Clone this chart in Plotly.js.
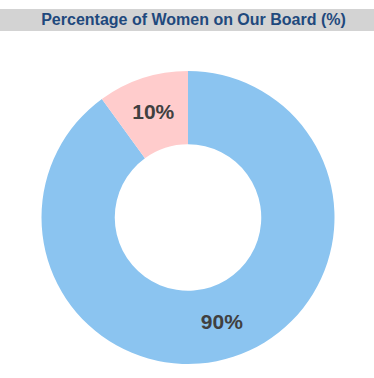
<!DOCTYPE html>
<html>
<head>
<meta charset="utf-8">
<script src="https://cdn.plot.ly/plotly-3.0.1.min.js"></script>
<style>html,body{margin:0;padding:0;background:#fff;}#chart{width:374px;height:378px;}</style>
</head>
<body>
<div id="chart"></div>
<script>
const labels = ["Men", "Women"];
const values = [90, 10];
const colors = ["#8BC4F0", "#FFCCCC"];
const chartTitle = "Percentage of Women on Our Board (%)";

const W = 374, H = 378;
const trace = {
  type: "pie",
  labels: labels,
  values: values,
  hole: 0.5,
  sort: false,
  direction: "clockwise",
  rotation: 0,
  textinfo: "percent",
  textposition: "inside",
  insidetextorientation: "horizontal",
  textfont: {family: "Arial, 'Liberation Sans', sans-serif", size: 21, color: "#404040", weight: "bold"},
  marker: {colors: colors, line: {width: 0}},
  hoverinfo: "none",
  domain: {x: [41.5 / W, 334.5 / W], y: [1 - 364 / H, 1 - 71 / H]}
};

const layout = {
  width: W, height: H,
  margin: {l: 0, r: 0, t: 0, b: 0},
  showlegend: false,
  paper_bgcolor: "#ffffff",
  title: {
    text: "<b>" + chartTitle + "</b>",
    font: {family: "Arial, 'Liberation Sans', sans-serif", size: 16, color: "#1F497D"},
    xref: "paper", x: 193.5 / W, xanchor: "center",
    yref: "container", y: 1 - 19 / H, yanchor: "middle"
  },
  shapes: [{
    type: "rect", xref: "paper", yref: "paper",
    x0: 0, x1: 1, y0: 1 - 31 / H, y1: 1 - 9 / H,
    fillcolor: "#D3D3D3", line: {width: 0}, layer: "below"
  }]
};

Plotly.newPlot("chart", [trace], layout, {displayModeBar: false, staticPlot: true});
</script>
</body>
</html>
